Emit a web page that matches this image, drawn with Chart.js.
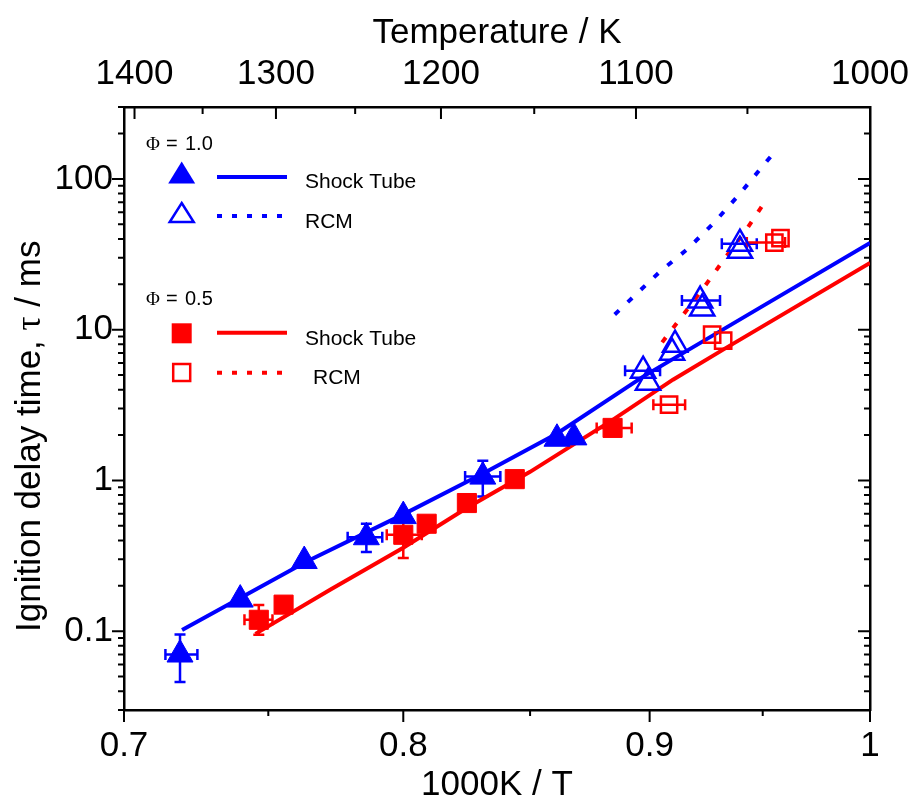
<!DOCTYPE html>
<html>
<head>
<meta charset="utf-8">
<script src="https://cdn.jsdelivr.net/npm/chart.js@4.4.1/dist/chart.umd.min.js"></script>
<style>
  html, body { margin: 0; padding: 0; background: #fff; }
  #wrap { width: 912px; height: 803px; }
</style>
</head>
<body>
<div id="wrap"><canvas id="chart" width="912" height="803"></canvas></div>
<script>
// Ignition delay times, 1000K/T vs tau (ms)

// phi = 1.0, shock tube (filled triangles)
const st10X = [0.719, 0.740, 0.763, 0.786, 0.800, 0.831, 0.861, 0.868];
const st10Y = [0.070, 0.162, 0.292, 0.420, 0.580, 1.06, 1.89, 1.93];
const st10XErr = [[0.714, 0.725], null, null, [0.779, 0.792], null, [0.824, 0.838], null, null];
const st10YErr = [[0.046, 0.095], null, null, [0.335, 0.516], null, [0.783, 1.35], null, null];

// phi = 1.0, RCM (open triangles)
const rcm10X = [0.8972, 0.8993, 0.9110, 0.9097, 0.9220, 0.9229, 0.9397, 0.9397];
const rcm10Y = [5.34, 4.45, 7.95, 7.03, 15.6, 13.8, 37.2, 33.4];
const rcm10XErr = [[0.8895, 0.9045], null, null, null, [0.9140, 0.9308], null, [0.9316, 0.9473], null];

// phi = 0.5, shock tube (filled squares)
const st05X = [0.7466, 0.7555, 0.800, 0.809, 0.8247, 0.8438, 0.8842];
const st05Y = [0.119, 0.150, 0.436, 0.516, 0.708, 1.02, 2.23];
const st05XErr = [[0.7415, 0.7515], null, [0.7937, 0.8071], null, null, null, [0.8775, 0.8923]];
const st05YErr = [[0.0947, 0.149], null, [0.3055, 0.540], null, null, null, null];

// phi = 0.5, RCM (open squares)
const rcm05X = [0.9084, 0.9273, 0.9322, 0.9553, 0.9581];
const rcm05Y = [3.18, 9.27, 8.45, 37.8, 40.5];
const rcm05XErr = [[0.9016, 0.9154], null, null, [0.9428, 0.9602], null];

// model curves
const model10X = [0.7197, 0.7637, 0.800, 0.8311, 0.8609, 0.8972, 0.9488, 1.0];
const model10Y = [0.102, 0.289, 0.595, 1.11, 2.04, 4.88, 14.0, 37.6];
const model05X = [0.7454, 0.7725, 0.800, 0.8248, 0.850, 0.8844, 0.9101, 0.9322, 1.0];
const model05Y = [0.096, 0.188, 0.358, 0.659, 1.14, 2.53, 4.66, 7.37, 27.7];
const rcmModel10X = [0.8851, 0.9045, 0.9167, 0.9286, 0.9397, 0.9565];
const rcmModel10Y = [12.6, 24.3, 34.5, 52.1, 79.9, 158];
const rcmModel05X = [0.9054, 0.9132, 0.9229, 0.9322, 0.9429, 0.9524];
const rcmModel05Y = [8.24, 11.8, 18.4, 28.7, 46.8, 75.6];

// axis ticks
const xMajor = [0.7, 0.8, 0.9, 1.0];
const xMinor = [0.75, 0.85, 0.95];
const tempTicks = [1400, 1350, 1300, 1250, 1200, 1150, 1100, 1050, 1000];
const yMajor = [0.1, 1, 10, 100];
const yMinor = [0.03, 0.04, 0.05, 0.06, 0.07, 0.08, 0.09,
                0.2, 0.3, 0.4, 0.5, 0.6, 0.7, 0.8, 0.9,
                2, 3, 4, 5, 6, 7, 8, 9,
                20, 30, 40, 50, 60, 70, 80, 90,
                200, 300];

const BLUE = '#0000ff';
const RED = '#ff0000';
const SANS = "'Liberation Sans', Arial, sans-serif";
const SERIF = "'Liberation Serif', 'Times New Roman', serif";

Chart.defaults.font.family = SANS;
Chart.defaults.color = '#000';

function pts(xs, ys) {
    return xs.map((x, i) => ({ x: x, y: ys[i] }));
}

// Error bars drawn under the markers
const errorBarPlugin = {
    id: 'errorBars',
    beforeDatasetsDraw(chart) {
        const { ctx, scales } = chart;
        const cap = 5.5;
        chart.data.datasets.forEach(ds => {
            if (!ds.xErr && !ds.yErr) return;
            ctx.save();
            ctx.strokeStyle = ds.borderColor;
            ctx.lineWidth = 2.5;
            ctx.beginPath();
            ds.data.forEach((p, i) => {
                const px = scales.x.getPixelForValue(p.x);
                const py = scales.y.getPixelForValue(p.y);
                const xe = ds.xErr && ds.xErr[i];
                if (xe) {
                    const a = scales.x.getPixelForValue(xe[0]);
                    const b = scales.x.getPixelForValue(xe[1]);
                    ctx.moveTo(a, py); ctx.lineTo(b, py);
                    ctx.moveTo(a, py - cap); ctx.lineTo(a, py + cap);
                    ctx.moveTo(b, py - cap); ctx.lineTo(b, py + cap);
                }
                const ye = ds.yErr && ds.yErr[i];
                if (ye) {
                    const a = scales.y.getPixelForValue(ye[0]);
                    const b = scales.y.getPixelForValue(ye[1]);
                    ctx.moveTo(px, a); ctx.lineTo(px, b);
                    ctx.moveTo(px - cap, a); ctx.lineTo(px + cap, a);
                    ctx.moveTo(px - cap, b); ctx.lineTo(px + cap, b);
                }
            });
            ctx.stroke();
            ctx.restore();
        });
    }
};

// Tick marks: out on bottom/left, in on top/right
const tickMarkPlugin = {
    id: 'tickMarks',
    afterDraw(chart) {
        const { ctx, chartArea: a, scales } = chart;
        ctx.save();
        ctx.strokeStyle = '#000';
        ctx.lineWidth = 2;
        ctx.beginPath();
        xMajor.forEach(v => { const p = scales.x.getPixelForValue(v); ctx.moveTo(p, a.bottom); ctx.lineTo(p, a.bottom + 12); });
        xMinor.forEach(v => { const p = scales.x.getPixelForValue(v); ctx.moveTo(p, a.bottom); ctx.lineTo(p, a.bottom + 6); });
        tempTicks.forEach(T => {
            const p = scales.x2.getPixelForValue(1000 / T);
            const len = T % 100 === 0 ? 12 : 7;
            ctx.moveTo(p, a.top); ctx.lineTo(p, a.top + len);
        });
        yMajor.forEach(v => {
            const p = scales.y.getPixelForValue(v);
            ctx.moveTo(a.left, p); ctx.lineTo(a.left - 12, p);
            ctx.moveTo(a.right, p); ctx.lineTo(a.right - 12, p);
        });
        yMinor.forEach(v => {
            const p = scales.y.getPixelForValue(v);
            ctx.moveTo(a.left, p); ctx.lineTo(a.left - 6, p);
            ctx.moveTo(a.right, p); ctx.lineTo(a.right - 6, p);
        });
        ctx.stroke();
        ctx.restore();
    }
};

// Legend block and y-axis title
const annotationPlugin = {
    id: 'phiLegend',
    afterDraw(chart) {
        const ctx = chart.ctx;
        ctx.save();

        // y title
        ctx.save();
        ctx.translate(40, 632);
        ctx.rotate(-Math.PI / 2);
        ctx.textBaseline = 'alphabetic';
        ctx.textAlign = 'left';
        ctx.fillStyle = '#000';
        let tx = 0;
        ctx.font = '35px ' + SANS;
        ctx.fillText('Ignition delay time, ', tx, 0);
        tx += ctx.measureText('Ignition delay time, ').width;
        ctx.font = '35px ' + SERIF;
        ctx.fillText('\u03c4', tx, 0);
        tx += ctx.measureText('\u03c4').width;
        ctx.font = '35px ' + SANS;
        ctx.fillText(' / ms', tx, 0);
        ctx.restore();

        const heading = (val, base) => {
            ctx.fillStyle = '#000';
            ctx.textBaseline = 'alphabetic';
            ctx.textAlign = 'left';
            ctx.font = '19px ' + SERIF;
            ctx.fillText('\u03a6', 146, base);
            ctx.font = '20px ' + SANS;
            ctx.fillText('=', 166, base);
            ctx.fillText(val, 185, base);
        };
        const label = (txt, x, base) => {
            ctx.fillStyle = '#000';
            ctx.font = '21px ' + SANS;
            ctx.textBaseline = 'alphabetic';
            ctx.textAlign = 'left';
            ctx.fillText(txt, x, base);
        };
        const seg = (y, color, dashed) => {
            ctx.beginPath();
            ctx.strokeStyle = color;
            ctx.lineWidth = 4;
            ctx.setLineDash(dashed ? [5, 10] : []);
            ctx.moveTo(217, y);
            ctx.lineTo(dashed ? 282 : 287, y);
            ctx.stroke();
            ctx.setLineDash([]);
        };
        const tri = (cx, cy, w, h, color, filled) => {
            ctx.beginPath();
            ctx.moveTo(cx, cy - h / 2);
            ctx.lineTo(cx + w / 2, cy + h / 2);
            ctx.lineTo(cx - w / 2, cy + h / 2);
            ctx.closePath();
            if (filled) { ctx.fillStyle = color; ctx.fill(); }
            else { ctx.strokeStyle = color; ctx.lineWidth = 2.5; ctx.stroke(); }
        };
        const sq = (cx, cy, s, color, filled) => {
            if (filled) { ctx.fillStyle = color; ctx.fillRect(cx - s / 2, cy - s / 2, s, s); }
            else { ctx.strokeStyle = color; ctx.lineWidth = 2.5; ctx.strokeRect(cx - s / 2, cy - s / 2, s, s); }
        };

        heading('1.0', 149.5);
        tri(181.7, 172.5, 27, 22, BLUE, true);
        seg(177, BLUE, false);
        label('Shock Tube', 305, 187.5);
        tri(181.7, 212.5, 24, 19, BLUE, false);
        seg(216, BLUE, true);
        label('RCM', 305, 227.5);

        heading('0.5', 305);
        sq(181.7, 333.3, 20, RED, true);
        seg(332.7, RED, false);
        label('Shock Tube', 305, 345);
        sq(181.7, 372.5, 17, RED, false);
        seg(372.7, RED, true);
        label('RCM', 313, 384);

        ctx.restore();
    }
};

const axisFont = { size: 35, lineHeight: 1 };
const noGrid = { display: false, drawTicks: false };
const frame = { display: true, width: 2.5, color: '#000' };

// fixed box sizes so the plot area lands at 124..870 x 107..710
function fixBox(size, horizontal) {
    return s => {
        if (horizontal) s.height = size; else s.width = size;
        s.paddingLeft = 0; s.paddingRight = 0;
        s.paddingTop = 0; s.paddingBottom = 0;
    };
}

const markerBase = { showLine: false, order: 0, pointBorderWidth: 1 };
const lineBase = { showLine: true, pointRadius: 0, borderWidth: 4, tension: 0, order: 1, fill: false };

new Chart(document.getElementById('chart'), {
    type: 'scatter',
    data: {
        datasets: [
            { ...markerBase, label: 'ST phi 1.0', data: pts(st10X, st10Y), xErr: st10XErr, yErr: st10YErr,
              pointStyle: 'triangle', pointRadius: 15, backgroundColor: BLUE, borderColor: BLUE },
            { ...markerBase, label: 'RCM phi 1.0', data: pts(rcm10X, rcm10Y), xErr: rcm10XErr,
              pointStyle: 'triangle', pointRadius: 14, backgroundColor: 'rgba(0,0,0,0)', borderColor: BLUE, pointBorderWidth: 2.5 },
            { ...markerBase, label: 'ST phi 0.5', data: pts(st05X, st05Y), xErr: st05XErr, yErr: st05YErr,
              pointStyle: 'rect', pointRadius: 13.5, backgroundColor: RED, borderColor: RED },
            { ...markerBase, label: 'RCM phi 0.5', data: pts(rcm05X, rcm05Y), xErr: rcm05XErr,
              pointStyle: 'rect', pointRadius: 11.5, backgroundColor: 'rgba(0,0,0,0)', borderColor: RED, pointBorderWidth: 2.5 },
            { ...lineBase, label: 'ST model 1.0', data: pts(model10X, model10Y), borderColor: BLUE },
            { ...lineBase, label: 'ST model 0.5', data: pts(model05X, model05Y), borderColor: RED },
            { ...lineBase, label: 'RCM model 1.0', data: pts(rcmModel10X, rcmModel10Y), borderColor: BLUE, borderDash: [6, 12] },
            { ...lineBase, label: 'RCM model 0.5', data: pts(rcmModel05X, rcmModel05Y), borderColor: RED, borderDash: [6, 12] }
        ]
    },
    options: {
        responsive: false,
        animation: false,
        layout: { padding: 0 },
        plugins: { legend: { display: false }, tooltip: { enabled: false } },
        scales: {
            x: {
                type: 'logarithmic', position: 'bottom', min: 0.7, max: 1.0,
                afterBuildTicks: s => { s.ticks = [0.7, 0.75, 0.8, 0.85, 0.9, 0.95, 1.0].map(v => ({ value: v })); },
                ticks: { autoSkip: false, maxRotation: 0, minRotation: 0, padding: 18.5, font: axisFont,
                         callback: v => xMajor.includes(v) ? String(v) : '' },
                grid: noGrid, border: frame,
                title: { display: true, text: '1000K / T', font: axisFont, padding: { top: 0, bottom: 0 } },
                afterFit: fixBox(93, true)
            },
            x2: {
                type: 'linear', position: 'top', min: 0.7102, max: 1.0,
                afterBuildTicks: s => { s.ticks = tempTicks.map(T => ({ value: 1000 / T })); },
                ticks: { autoSkip: false, maxRotation: 0, minRotation: 0, padding: 15, font: axisFont,
                         callback: v => { const T = Math.round(1000 / v); return T % 100 === 0 ? String(T) : ''; } },
                grid: noGrid, border: frame,
                title: { display: true, text: 'Temperature / K', font: axisFont, padding: { top: 16, bottom: 0 } },
                afterFit: fixBox(107, true)
            },
            y: {
                type: 'logarithmic', position: 'left', min: 0.03, max: 300,
                afterBuildTicks: s => { s.ticks = [...yMinor, ...yMajor].sort((a, b) => a - b).map(v => ({ value: v })); },
                ticks: { autoSkip: false, padding: 11, font: axisFont,
                         callback: v => yMajor.includes(v) ? String(v) : '' },
                grid: noGrid, border: frame,
                afterFit: fixBox(124, false)
            },
            y2: {
                type: 'logarithmic', position: 'right', min: 0.03, max: 300,
                ticks: { display: false },
                grid: noGrid, border: frame,
                afterFit: fixBox(42, false)
            }
        }
    },
    plugins: [errorBarPlugin, tickMarkPlugin, annotationPlugin]
});
</script>
</body>
</html>
